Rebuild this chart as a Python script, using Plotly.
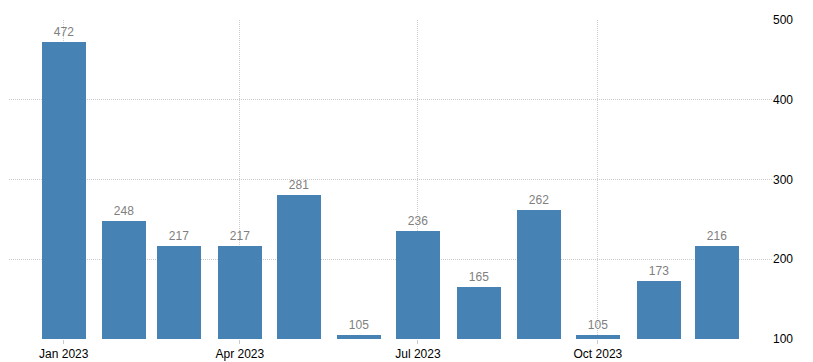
import plotly.graph_objects as go

months = ["2023-01-01", "2023-02-01", "2023-03-01", "2023-04-01", "2023-05-01", "2023-06-01",
          "2023-07-01", "2023-08-01", "2023-09-01", "2023-10-01", "2023-11-01", "2023-12-01"]
values = [472, 248, 217, 217, 281, 105, 236, 165, 262, 105, 173, 216]
y_ticks = [100, 200, 300, 400, 500]

DAY_MS = 86400000

fig = go.Figure(go.Bar(
    x=months, y=values,
    width=[22.5 * DAY_MS] * len(values),
    marker=dict(color="#4682B4", line=dict(width=0)),
    text=[str(v) for v in values],
    textposition="outside",
    textfont=dict(color="#808080", size=12, family="Liberation Sans"),
    cliponaxis=False,
))

fig.update_layout(
    width=813, height=362,
    margin=dict(l=9, r=41, t=20, b=23),
    plot_bgcolor="white", paper_bgcolor="white",
    showlegend=False,
    bargap=0,
    font=dict(family="Liberation Sans", size=12, color="#000000"),
)
fig.update_xaxes(
    type="date", automargin=False,
    range=["2022-12-04", "2023-12-29"],
    tick0="2023-01-01", dtick="M3", tickformat="%b %Y",
    showgrid=True, gridcolor="#cccccc", griddash="1px,1px", gridwidth=1,
    ticks="outside", ticklen=4, tickcolor="#cccccc",
    showline=False, zeroline=False,
    tickfont=dict(size=12, color="#000000"),
)
fig.update_yaxes(
    side="right", range=[100, 500], automargin=False,
    tickvals=y_ticks, ticktext=[str(t) for t in y_ticks],
    showgrid=True, gridcolor="#cccccc", griddash="1px,1px", gridwidth=1,
    zeroline=False, showline=False, ticks="",
    tickfont=dict(size=12, color="#000000"),
)

fig.write_html(
    "out.html",
    config={"displayModeBar": False},
    post_script="document.body.style.margin='0';document.body.style.overflow='hidden';",
)
